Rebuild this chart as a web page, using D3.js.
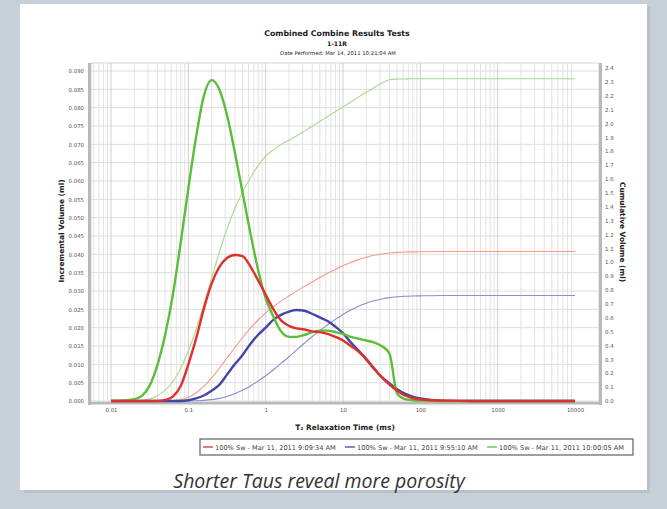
<!DOCTYPE html>
<html><head><meta charset="utf-8">
<script src="https://cdn.jsdelivr.net/npm/d3@7"></script>
<style>
html,body{margin:0;padding:0;background:#c7cfd9;}
svg{display:block;}
</style></head>
<body>
<svg id="c" width="667" height="509"></svg>
<script>
// ---- data ----
const title = "Combined Combine Results Tests";
const subtitle = "1-11R";
const dateLine = "Date Performed: Mar 14, 2011 10:21:04 AM";
const caption = "Shorter Taus reveal more porosity";
const seriesNames = ["100% Sw - Mar 11, 2011 9:09:34 AM","100% Sw - Mar 11, 2011 9:55:10 AM","100% Sw - Mar 11, 2011 10:00:05 AM"];
const xTickValues = [0.01,0.1,1,10,100,1000,10000];
const xTickLabels = ["0.01","0.1","1","10","100","1000","10000"];
const leftTicks = [0,0.005,0.010,0.015,0.020,0.025,0.030,0.035,0.040,0.045,0.050,0.055,0.060,0.065,0.070,0.075,0.080,0.085,0.090];
const rightTicks = [0,0.1,0.2,0.3,0.4,0.5,0.6,0.7,0.8,0.9,1.0,1.1,1.2,1.3,1.4,1.5,1.6,1.7,1.8,1.9,2.0,2.1,2.2,2.3,2.4];

const T = [0.01,0.0126,0.0158,0.02,0.0251,0.0316,0.0398,0.0501,0.0631,0.0794,
  0.1,0.126,0.158,0.2,0.251,0.316,0.398,0.501,0.631,0.794,
  1,1.26,1.58,2,2.51,3.16,3.98,5.01,6.31,7.94,
  10,12.6,15.8,20,25.1,31.6,39.8,50.1,63.1,79.4,
  100,200,500,1000,10000];

const incRed = [0,0,0,0,0,0,0,0.0003,0.0012,0.004,
  0.010,0.017,0.025,0.032,0.0365,0.039,0.0398,0.0395,0.0368,0.033,
  0.029,0.025,0.022,0.0205,0.0198,0.0195,0.019,0.0188,0.0183,0.0175,
  0.0165,0.015,0.0135,0.0115,0.009,0.0065,0.0045,0.0028,0.0015,0.0008,
  0.0004,0.0001,0,0,0];
const incBlue = [0,0,0,0,0,0,0,0,0,0,
  0.0002,0.0007,0.0015,0.0028,0.0044,0.0072,0.010,0.0125,0.0155,0.018,
  0.020,0.0222,0.0235,0.0244,0.0248,0.0246,0.0238,0.0228,0.0218,0.0203,
  0.0185,0.016,0.0138,0.0113,0.0088,0.0066,0.0048,0.0032,0.002,0.0012,
  0.0007,0.0001,0,0,0];
const incGreen = [0,0.0001,0.0002,0.0005,0.0014,0.0042,0.0098,0.018,0.029,0.043,
  0.058,0.072,0.083,0.0875,0.085,0.078,0.068,0.057,0.046,0.036,
  0.028,0.023,0.019,0.0175,0.0175,0.018,0.0188,0.0192,0.0192,0.0188,
  0.0183,0.0175,0.017,0.0165,0.016,0.015,0.013,0.002,0.0005,0.0002,
  0.0001,0,0,0,0];

const cumRed = [0,0,0,0,0,0,0,0.0005,0.0027,0.0097,
  0.027,0.058,0.105,0.166,0.236,0.31,0.384,0.456,0.523,0.582,
  0.635,0.68,0.72,0.757,0.792,0.826,0.858,0.89,0.92,0.948,
  0.974,0.998,1.019,1.036,1.05,1.06,1.067,1.071,1.074,1.075,
  1.076,1.077,1.077,1.077,1.077];
const cumBlue = [0,0,0,0,0,0,0,0,0,0,
  0.0004,0.0018,0.0047,0.010,0.019,0.033,0.053,0.077,0.107,0.143,
  0.182,0.225,0.271,0.319,0.368,0.416,0.463,0.507,0.548,0.588,
  0.624,0.656,0.683,0.705,0.722,0.735,0.745,0.751,0.755,0.757,
  0.758,0.76,0.76,0.76,0.76];
const cumGreen = [0,0.0002,0.001,0.0025,0.005,0.014,0.038,0.078,0.14,0.235,
  0.36,0.515,0.695,0.885,1.07,1.24,1.385,1.505,1.605,1.695,
  1.765,1.812,1.848,1.88,1.91,1.945,1.98,2.015,2.05,2.085,
  2.12,2.155,2.19,2.225,2.258,2.29,2.315,2.32,2.321,2.322,
  2.322,2.322,2.322,2.322,2.322];

// ---- drawing ----
const svg = d3.select("#c");
const FONT = "DejaVu Sans, Verdana, sans-serif";

// card
svg.append("rect").attr("x",24).attr("y",7).attr("width",626).attr("height",486).attr("fill","#aeb6c0").attr("opacity",0.6);
svg.append("rect").attr("x",20).attr("y",4).attr("width",627).attr("height",486).attr("fill","#ffffff");

const P = {l:91, r:599, t:63, b:402};
const x = d3.scaleLog().domain([0.01,10000]).range([111,575]);
const yL = d3.scaleLinear().domain([0,0.09]).range([401,71]);
const yR = d3.scaleLinear().domain([0,2.4]).range([401,68]);

// plot bg
svg.append("rect").attr("x",P.l).attr("y",P.t).attr("width",P.r-P.l).attr("height",P.b-P.t)
  .attr("fill","#fff").attr("stroke","#c8c8c8").attr("stroke-width",0.8);

// grid
const g = svg.append("g");
g.selectAll("line.h").data(leftTicks).join("line")
  .attr("x1",P.l).attr("x2",P.r).attr("y1",d=>yL(d)).attr("y2",d=>yL(d))
  .attr("stroke","#d4d4d4").attr("stroke-width",0.8);
const minor = [];
for (let e=-3; e<=3; e++) for (let m=1; m<=9; m++) {
  const v = m*Math.pow(10,e);
  if (x(v) >= P.l && v <= 10000) minor.push({v, major: m===1});
}
g.selectAll("line.v").data(minor).join("line")
  .attr("x1",d=>x(d.v)).attr("x2",d=>x(d.v)).attr("y1",P.t).attr("y2",P.b)
  .attr("stroke",d=>d.major?"#c4c4c4":"#dcdcdc").attr("stroke-width",0.8);

// axis bars
svg.append("rect").attr("x",P.l-3).attr("y",P.t).attr("width",3).attr("height",P.b-P.t+3).attr("fill","#b9b9b9");
svg.append("rect").attr("x",P.r).attr("y",P.t).attr("width",3).attr("height",P.b-P.t+3).attr("fill","#b9b9b9");
svg.append("rect").attr("x",P.l-3).attr("y",P.b).attr("width",P.r-P.l+6).attr("height",2.5).attr("fill","#b9b9b9");

// axes (labels)
const axL = svg.append("g").attr("transform",`translate(${P.l-5},0)`)
  .call(d3.axisLeft(yL).tickValues(leftTicks).tickFormat(d3.format(".3f")).tickSize(0).tickPadding(2));
const axR = svg.append("g").attr("transform",`translate(${P.r+4},0)`)
  .call(d3.axisRight(yR).tickValues(rightTicks).tickFormat(d3.format(".1f")).tickSize(0).tickPadding(2));
const axB = svg.append("g").attr("transform",`translate(0,${P.b+3})`)
  .call(d3.axisBottom(x).tickValues(xTickValues).tickFormat((d,i)=>xTickLabels[i]).tickSize(0).tickPadding(3));
[axL,axR,axB].forEach(a=>{
  a.select(".domain").remove();
  a.selectAll("text").attr("font-family",FONT).attr("font-size",5.4).attr("fill","#555");
});

// lines
const lineL = d3.line().x((d,i)=>x(T[i])).y(d=>yL(d)).curve(d3.curveMonotoneX);
const lineR = d3.line().x((d,i)=>x(T[i])).y(d=>yR(d)).curve(d3.curveMonotoneX);
const thin = [[cumBlue,"#8c8cd0"],[cumRed,"#f29a8c"],[cumGreen,"#a8d98f"]];
thin.forEach(([d,c])=>svg.append("path").attr("d",lineR(d)).attr("fill","none").attr("stroke",c).attr("stroke-width",1.1));
const thick = [[incBlue,"#4545a8"],[incGreen,"#5cbd3c"],[incRed,"#e0302c"]];
thick.forEach(([d,c])=>svg.append("path").attr("d",lineL(d)).attr("fill","none").attr("stroke",c).attr("stroke-width",2.4).attr("stroke-linejoin","round"));

// titles
const t = svg.append("g").attr("font-family",FONT).attr("fill","#222").attr("text-anchor","middle");
t.append("text").attr("x",337).attr("y",36).attr("font-size",7.8).attr("font-weight","bold").text(title);
t.append("text").attr("x",337).attr("y",46).attr("font-size",6.2).attr("font-weight","bold").text(subtitle);
t.append("text").attr("x",338).attr("y",55).attr("font-size",5.3).text(dateLine);
t.append("text").attr("x",345).attr("y",430).attr("font-size",7.4).attr("font-weight","bold").text("T₂ Relaxation Time (ms)");
t.append("text").attr("transform","translate(64,231) rotate(-90)").attr("font-size",7.4).attr("font-weight","bold").text("Incremental Volume (ml)");
t.append("text").attr("transform","translate(620,232) rotate(90)").attr("font-size",7.4).attr("font-weight","bold").text("Cumulative Volume (ml)");

// legend
const lg = svg.append("g");
lg.append("rect").attr("x",200).attr("y",439).attr("width",433).attr("height",16).attr("fill","#fff").attr("stroke","#777").attr("stroke-width",1.4);
const legX = [203,345,487];
const legC = ["#e0302c","#4545a8","#5cbd3c"];
seriesNames.forEach((n,i)=>{
  lg.append("line").attr("x1",legX[i]).attr("x2",legX[i]+10).attr("y1",447).attr("y2",447).attr("stroke",legC[i]).attr("stroke-width",1.3);
  lg.append("text").attr("x",legX[i]+12).attr("y",449.5).attr("font-family",FONT).attr("font-size",6.6).attr("fill","#444").text(n);
});

// caption
svg.append("text").attr("x",319).attr("y",488).attr("text-anchor","middle").attr("font-family","Open Sans, sans-serif")
  .attr("font-style","italic").attr("font-size",19.5).attr("fill","#333").text(caption);
</script>
</body></html>
